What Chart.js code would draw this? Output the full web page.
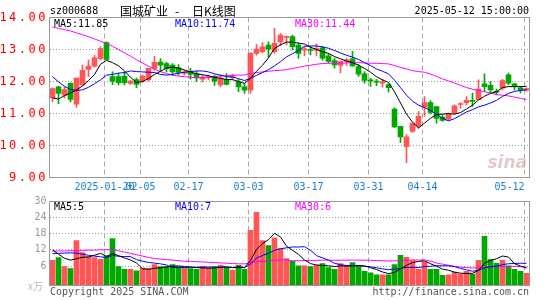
<!DOCTYPE html>
<html><head><meta charset="utf-8">
<script src="https://cdn.jsdelivr.net/npm/chart.js@4.4.0/dist/chart.umd.min.js"></script>
<style>
html,body{margin:0;padding:0;background:#fff;}
#wrap{position:relative;width:545px;height:300px;overflow:hidden;background:#fff;}
canvas{position:absolute;left:0;}
#main{top:0;}
#vol{top:192px;}
</style></head><body>
<div id="wrap"><canvas id="main" width="545" height="192"></canvas><canvas id="vol" width="545" height="108"></canvas></div>
<script>
// ---------- data ----------
const dates = ['2025-01-07','2025-01-08','2025-01-09','2025-01-10','2025-01-13','2025-01-14','2025-01-15','2025-01-16','2025-01-17','2025-01-20',
'2025-01-21','2025-01-22','2025-01-23','2025-01-24','2025-01-27','2025-02-05','2025-02-06','2025-02-07','2025-02-10','2025-02-11',
'2025-02-12','2025-02-13','2025-02-14','2025-02-17','2025-02-18','2025-02-19','2025-02-20','2025-02-21','2025-02-24','2025-02-25',
'2025-02-26','2025-02-27','2025-02-28','2025-03-03','2025-03-04','2025-03-05','2025-03-06','2025-03-07','2025-03-10','2025-03-11',
'2025-03-12','2025-03-13','2025-03-14','2025-03-17','2025-03-18','2025-03-19','2025-03-20','2025-03-21','2025-03-24','2025-03-25',
'2025-03-26','2025-03-27','2025-03-28','2025-03-31','2025-04-01','2025-04-02','2025-04-03','2025-04-07','2025-04-08','2025-04-09',
'2025-04-10','2025-04-11','2025-04-14','2025-04-15','2025-04-16','2025-04-17','2025-04-18','2025-04-21','2025-04-22','2025-04-23',
'2025-04-24','2025-04-25','2025-04-28','2025-04-29','2025-04-30','2025-05-06','2025-05-07','2025-05-08','2025-05-09','2025-05-12'];

const openP = [11.49,11.83,11.57,11.94,11.29,11.89,12.38,12.48,12.72,13.22,
12.15,12.15,12.17,11.94,12.06,12.01,12.06,12.41,12.61,12.56,
12.51,12.43,12.25,12.32,12.25,12.07,12.12,12.15,11.89,12.07,
12.12,12.00,11.83,11.73,12.88,12.93,13.14,12.93,13.24,13.38,
13.40,13.14,12.98,13.00,12.98,13.05,12.80,12.65,12.50,12.63,
12.71,12.47,12.24,12.05,11.99,11.95,11.90,11.14,10.60,9.96,
10.44,10.61,11.20,11.34,11.22,10.89,10.82,11.01,11.28,11.34,
11.40,11.43,11.93,11.88,11.68,11.79,12.21,11.93,11.80,11.73];
const highP = [11.80,11.85,11.83,11.96,12.11,12.51,12.67,12.82,13.08,13.24,
12.30,12.26,12.30,12.04,12.11,12.20,12.41,12.79,12.72,12.61,
12.56,12.53,12.35,12.41,12.32,12.20,12.20,12.20,12.20,12.25,
12.23,12.07,11.94,12.90,13.16,13.22,13.24,13.66,13.50,13.42,
13.45,13.20,13.10,13.08,13.18,13.10,12.87,12.73,12.63,12.73,
12.94,12.53,12.31,12.10,12.07,12.07,11.93,11.18,10.60,10.34,
10.70,11.06,11.53,11.40,11.22,10.96,11.01,11.27,11.34,11.53,
11.64,12.05,12.24,12.00,11.76,12.07,12.26,11.95,11.84,11.80];
const lowP = [11.36,11.31,11.49,11.36,11.19,11.88,12.15,12.45,12.67,12.69,
11.90,11.89,11.89,11.91,11.81,11.97,12.01,12.35,12.30,12.30,
12.20,12.20,12.20,12.07,12.00,11.99,12.05,11.88,11.83,11.89,
12.05,11.68,11.63,11.63,12.82,12.90,12.77,12.88,13.11,13.14,
12.99,12.72,12.80,12.83,12.80,12.67,12.57,12.42,12.27,12.50,
12.47,12.16,11.95,11.85,11.87,11.82,11.67,10.56,10.10,9.46,
10.41,10.54,10.91,10.99,10.70,10.75,10.78,10.99,11.17,11.27,
11.22,11.43,11.69,11.64,11.58,11.74,11.90,11.74,11.64,11.70];
const closeP = [11.78,11.63,11.75,11.44,12.11,12.35,12.48,12.74,13.03,12.69,
12.01,11.96,11.96,12.01,11.91,12.17,12.41,12.60,12.51,12.41,
12.30,12.28,12.30,12.22,12.11,12.14,12.15,12.01,12.09,11.91,
12.15,11.83,11.73,12.88,13.01,13.08,13.01,13.19,13.45,13.40,
13.09,12.88,13.02,12.97,13.03,12.73,12.63,12.52,12.63,12.68,
12.49,12.23,12.03,12.02,11.98,11.99,11.81,10.58,10.27,10.27,
10.70,10.91,11.34,11.03,10.85,10.78,10.98,11.24,11.30,11.41,
11.38,11.76,11.84,11.74,11.66,12.03,11.95,11.84,11.73,11.78];

const ma5 = [11.49,11.45,11.56,11.64,11.74,11.86,12.03,12.22,12.54,12.66,
12.59,12.49,12.33,12.13,11.97,12.00,12.09,12.22,12.32,12.42,
12.45,12.42,12.36,12.30,12.24,12.21,12.18,12.13,12.10,12.06,
12.06,12.00,11.94,12.10,12.32,12.51,12.74,13.03,13.15,13.23,
13.23,13.20,13.17,13.07,13.00,12.93,12.88,12.78,12.71,12.64,
12.59,12.51,12.41,12.29,12.15,12.05,11.97,11.68,11.33,10.98,
10.73,10.55,10.70,10.85,10.97,10.98,11.00,10.98,11.03,11.14,
11.26,11.42,11.54,11.63,11.68,11.81,11.84,11.84,11.84,11.85];
const ma10 = [12.15,11.99,11.85,11.75,11.72,11.74,11.82,11.93,12.05,12.20,
12.22,12.26,12.28,12.33,12.31,12.30,12.29,12.28,12.22,12.20,
12.22,12.26,12.29,12.31,12.33,12.33,12.30,12.24,12.20,12.15,
12.14,12.09,12.03,12.10,12.19,12.28,12.37,12.49,12.62,12.77,
12.87,12.97,13.10,13.11,13.11,13.08,13.04,12.97,12.89,12.82,
12.76,12.69,12.59,12.50,12.39,12.32,12.24,12.04,11.81,11.57,
11.39,11.26,11.19,11.09,10.98,10.85,10.77,10.84,10.94,11.05,
11.12,11.21,11.26,11.33,11.41,11.53,11.63,11.69,11.72,11.74];
const ma30 = [13.70,13.66,13.62,13.58,13.52,13.46,13.40,13.33,13.26,13.19,
13.10,13.00,12.90,12.79,12.68,12.58,12.48,12.39,12.31,12.25,
12.20,12.17,12.15,12.13,12.12,12.12,12.13,12.15,12.17,12.18,
12.19,12.20,12.20,12.25,12.28,12.30,12.32,12.34,12.35,12.37,
12.41,12.44,12.48,12.51,12.54,12.56,12.57,12.57,12.57,12.58,
12.59,12.59,12.58,12.57,12.57,12.56,12.55,12.50,12.44,12.39,
12.34,12.31,12.29,12.23,12.16,12.08,12.02,11.95,11.88,11.81,
11.76,11.72,11.68,11.64,11.59,11.57,11.55,11.51,11.47,11.44];

const volume = [8.1,9.1,5.75,5.0,15.5,11.0,9.5,9.1,8.5,9.75,
16.25,5.75,4.75,4.75,4.25,5.25,5.0,6.5,5.75,5.75,
6.5,5.75,5.25,5.0,4.75,5.75,5.25,5.75,6.25,5.5,
4.5,6.25,4.75,19.25,26.0,15.5,13.6,16.5,12.5,8.75,
7.75,6.1,6.1,5.75,6.25,6.9,5.4,4.75,6.9,6.0,
7.25,6.0,4.0,3.5,2.75,2.75,2.75,6.5,10.0,9.25,
8.0,4.75,7.5,4.75,4.75,2.5,2.75,3.75,3.0,4.0,
3.0,8.1,17.0,8.4,7.0,8.1,6.1,4.75,4.0,3.25];
const volMa5 = [12.0,10.4,8.9,8.2,8.69,9.27,9.35,10.02,10.72,9.57,
10.62,9.87,9.0,8.25,7.15,4.95,4.8,5.15,5.35,5.65,
5.9,6.05,5.8,5.65,5.45,5.3,5.2,5.3,5.55,5.7,
5.45,5.65,5.45,8.05,12.15,14.35,15.82,18.17,16.82,13.37,
11.82,10.32,8.24,6.89,6.39,6.22,6.08,5.81,6.04,5.99,
6.06,6.18,6.03,5.35,4.7,3.8,3.15,3.65,4.95,6.25,
7.3,7.7,7.9,6.85,5.95,4.85,4.45,3.7,3.35,3.2,
3.3,4.37,7.02,8.1,8.7,9.72,9.32,6.87,5.99,5.24];
const volMa10 = [10.6,10.7,10.8,10.9,10.8,10.4,10.0,9.7,9.4,9.13,
9.95,9.61,9.51,9.49,8.36,7.79,7.34,7.08,6.8,6.4,
5.43,5.43,5.48,5.5,5.55,5.6,5.63,5.55,5.6,5.58,
5.38,5.43,5.38,6.8,8.93,9.9,10.74,11.81,12.44,12.76,
13.09,13.07,13.21,11.86,9.88,9.02,8.2,7.03,6.47,6.19,
6.14,6.13,5.92,5.7,5.35,4.93,4.67,4.84,5.15,5.48,
5.55,5.43,5.78,5.9,6.1,6.08,6.08,5.8,5.1,4.58,
4.08,4.41,5.36,5.73,5.95,6.51,6.85,6.95,7.05,6.97];
const volMa30 = [11.5,11.6,11.6,11.7,11.7,11.8,11.9,11.9,12.0,12.1,
12.1,11.7,11.2,10.7,10.2,9.7,9.2,8.8,8.6,8.4,
8.2,8.0,7.8,7.7,7.6,7.5,7.4,7.3,7.15,7.04,
6.92,6.82,6.79,7.26,7.61,7.76,7.9,8.15,8.28,8.25,
7.96,7.97,8.02,8.05,8.12,8.17,8.19,8.13,8.17,8.18,
8.2,8.21,8.17,8.12,8.05,7.95,7.87,7.89,8.02,8.14,
8.26,8.21,8.3,7.82,7.11,6.68,6.31,5.89,5.57,5.41,
5.26,5.32,5.69,5.77,5.8,5.84,5.86,5.86,5.77,5.67];

const tickDates  = ['2025-01-20','2025-02-05','2025-02-17','2025-03-03','2025-03-17','2025-03-31','2025-04-14','2025-05-12'];
const tickLabels = ['2025-01-20','02-05','02-17','03-03','03-17','03-31','04-14','05-12'];
const priceMin = 9, priceMax = 14, priceStep = 0.5;
const volMin = -1.25, volMax = 30;
const volTicks = [6, 12, 18, 24, 30];
const priceMaLabels = ['MA5:11.85', 'MA10:11.74', 'MA30:11.44'];
const volMaLabels = ['MA5:5', 'MA10:7', 'MA30:6'];
const stockCode = 'sz000688';
const titleParts = ['国城矿业', '-', '日K线图'];
const stamp = '2025-05-12 15:00:00';

// ---------- styles ----------
const UP = '#ff5555', DOWN = '#00a800';
const MA_COLORS = ['#000000', '#0000ff', '#ff00ff'];
const MONO = '"DejaVu Sans Mono", "Liberation Mono", monospace';
const candleColors = closeP.map((c, i) => c >= openP[i] ? UP : DOWN);

function frameAndVLines(chart) {
  const {ctx, chartArea: a, scales: {x}} = chart;
  ctx.save();
  ctx.strokeStyle = '#aaaaaa';
  ctx.lineWidth = 1;
  ctx.setLineDash([5, 3]);
  tickDates.forEach(d => {
    const i = dates.indexOf(d);
    const px = x.getPixelForValue(i) - 2;
    ctx.beginPath(); ctx.moveTo(px, a.top); ctx.lineTo(px, a.bottom); ctx.stroke();
  });
  ctx.restore();
}
function frame(chart) {
  const {ctx, chartArea: a} = chart;
  ctx.save();
  ctx.strokeStyle = '#999999';
  ctx.lineWidth = 1;
  ctx.strokeRect(a.left, a.top, a.right - a.left, a.bottom - a.top);
  ctx.restore();
}
function txt(ctx, s, x, y, color, font, align) {
  ctx.save();
  ctx.font = font; ctx.fillStyle = color; ctx.textAlign = align || 'left'; ctx.textBaseline = 'middle';
  ctx.fillText(s, x, y);
  ctx.restore();
}

const mainDeco = {
  id: 'mainDeco',
  beforeDraw(chart) {
    const s = chart.scales.y;
    if (!s._ls) {
      const orig = s.drawLabels.bind(s);
      s.drawLabels = function (area) { const c = chart.ctx; c.save(); c.letterSpacing = '2.5px'; orig(area); c.restore(); };
      s._ls = true;
    }
  },
  beforeDatasetsDraw(chart) { frameAndVLines(chart); },
  afterDraw(chart) {
    frame(chart);
    const ctx = chart.ctx;
    const f10 = '10px ' + MONO;
    txt(ctx, stockCode, 50, 11, '#000', f10);
    const cjk = '12px "Noto Sans CJK SC", sans-serif';
    txt(ctx, titleParts[0], 120, 11, '#000', cjk);
    txt(ctx, titleParts[1], 175, 11, '#000', cjk);
    txt(ctx, titleParts[2], 192, 11, '#000', cjk);
    txt(ctx, stamp, 529, 11, '#000', f10, 'right');
    txt(ctx, priceMaLabels[0], 54, 24, MA_COLORS[0], f10);
    txt(ctx, priceMaLabels[1], 175, 24, MA_COLORS[1], f10);
    txt(ctx, priceMaLabels[2], 295, 24, MA_COLORS[2], f10);
    txt(ctx, 'sina', 527, 164, 'rgba(205,160,160,0.55)', 'italic bold 17px "DejaVu Sans", sans-serif', 'right');
  }
};

const volDeco = {
  id: 'volDeco',
  beforeDatasetsDraw(chart) { frameAndVLines(chart); },
  afterDraw(chart) {
    frame(chart);
    const ctx = chart.ctx;
    const f10 = '10px ' + MONO;
    txt(ctx, volMaLabels[0], 54, 15, MA_COLORS[0], f10);
    txt(ctx, volMaLabels[1], 175, 15, MA_COLORS[1], f10);
    txt(ctx, volMaLabels[2], 295, 15, MA_COLORS[2], f10);
    txt(ctx, 'x万', 28, 94, '#bbbbbb', '10px "Noto Sans CJK SC", sans-serif');
    txt(ctx, 'Copyright 2025 SINA.COM', 50, 100, '#555555', f10);
    txt(ctx, 'http://finance.sina.com.cn', 529, 100, '#555555', f10, 'right');
  }
};

const lineDs = (label, data, color) => ({
  type: 'line', label, data, borderColor: color, borderWidth: 1, pointRadius: 0, tension: 0, fill: false, order: 0
});

new Chart(document.getElementById('main'), {
  type: 'bar',
  data: {
    labels: dates,
    datasets: [
      lineDs('MA5', ma5, MA_COLORS[0]),
      lineDs('MA10', ma10, MA_COLORS[1]),
      lineDs('MA30', ma30, MA_COLORS[2]),
      { label: 'body', data: openP.map((o, i) => [o, closeP[i]]), backgroundColor: candleColors,
        barThickness: 5, grouped: false, minBarLength: 1, borderWidth: 0, order: 1 },
      { label: 'wick', data: lowP.map((l, i) => [l, highP[i]]), backgroundColor: candleColors,
        barThickness: 1, grouped: false, borderWidth: 0, order: 2 }
    ]
  },
  options: {
    responsive: false, animation: false, events: [],
    layout: { padding: { top: 17.5, right: 15.5, left: 0, bottom: 0 } },
    plugins: { legend: { display: false }, tooltip: { enabled: false } },
    scales: {
      x: {
        offset: true,
        grid: { display: false, drawTicks: false },
        border: { display: false },
        ticks: {
          autoSkip: false, maxRotation: 0, minRotation: 0, padding: 4, labelOffset: -2,
          color: '#1a7fcf', font: { family: MONO, size: 10 },
          callback: (v, i) => {
            const k = tickDates.indexOf(dates[i]);
            if (k < 0) return '';
            // the last label is pulled left so it stays inside the frame, as in the original
            return k === tickLabels.length - 1 ? tickLabels[k] + '     ' : tickLabels[k];
          }
        },
        afterFit: s => { s.height = 14.5; s.paddingLeft = 0; s.paddingRight = 0; }
      },
      y: {
        min: priceMin, max: priceMax,
        ticks: { stepSize: priceStep, padding: 1.5, color: '#ff0000', font: { family: MONO, size: 12 },
          callback: v => Number(v).toFixed(2) },
        grid: { drawTicks: false, lineWidth: 1,
          color: c => (c.tick && (c.tick.value === priceMin || c.tick.value === priceMax)) ? 'rgba(0,0,0,0)' : '#999999' },
        border: { display: false, dash: [1, 2] },
        afterFit: s => { s.width = 49.5; s.paddingTop = 0; s.paddingBottom = 0; }
      }
    }
  },
  plugins: [mainDeco]
});

new Chart(document.getElementById('vol'), {
  type: 'bar',
  data: {
    labels: dates,
    datasets: [
      lineDs('MA5', volMa5, MA_COLORS[0]),
      lineDs('MA10', volMa10, MA_COLORS[1]),
      lineDs('MA30', volMa30, MA_COLORS[2]),
      { label: 'volume', data: volume, backgroundColor: candleColors, base: volMin,
        barThickness: 5, grouped: false, borderWidth: 0, order: 1 }
    ]
  },
  options: {
    responsive: false, animation: false, events: [],
    layout: { padding: { top: 9.5, right: 15.5, left: 0, bottom: 14.5 } },
    plugins: { legend: { display: false }, tooltip: { enabled: false } },
    scales: {
      x: { offset: true, display: false },
      y: {
        min: volMin, max: volMax,
        afterBuildTicks: s => { s.ticks = volTicks.map(v => ({ value: v })); },
        ticks: { padding: 3, color: '#999999', font: { family: MONO, size: 10 }, callback: v => String(v) },
        grid: { drawTicks: false, lineWidth: 1,
          color: c => (c.tick && c.tick.value === volMax) ? 'rgba(0,0,0,0)' : '#999999' },
        border: { display: false, dash: [1, 2] },
        afterFit: s => { s.width = 49.5; s.paddingTop = 0; s.paddingBottom = 0; }
      }
    }
  },
  plugins: [volDeco]
});
</script>
</body></html>
